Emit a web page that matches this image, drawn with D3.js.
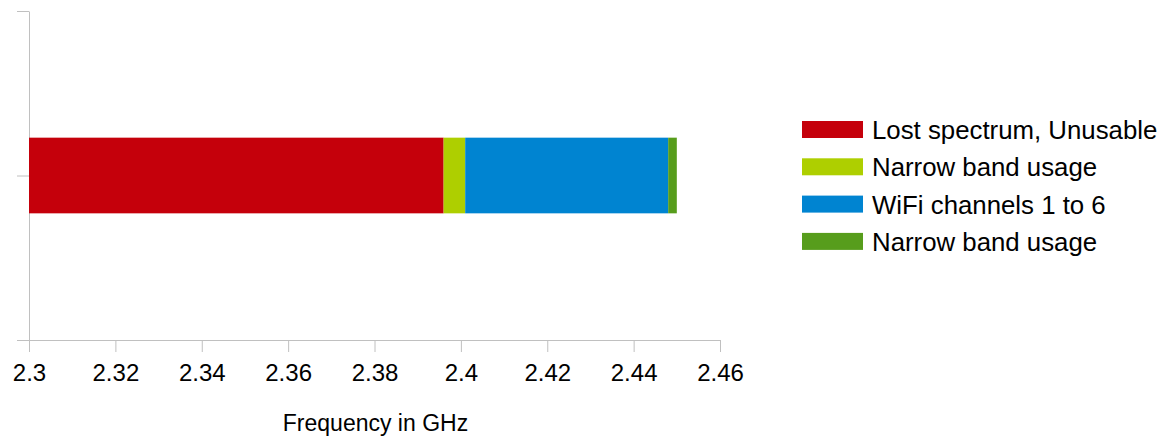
<!DOCTYPE html>
<html>
<head>
<meta charset="utf-8">
<script src="https://d3js.org/d3.v7.min.js"></script>
<style>
  body { margin: 0; background: #fff; }
  svg { display: block; font-family: "Liberation Sans", Arial, sans-serif; }
  .axis path, .axis line { stroke: #c0c0c0; }
  .axis text { fill: #000; }
</style>
</head>
<body>
<svg width="1167" height="437"></svg>
<script>
// stacked segments along the frequency axis (GHz), starting at 2.3
var base = 2.3;
var seriesNames = ["Lost spectrum, Unusable", "Narrow band usage", "WiFi channels 1 to 6", "Narrow band usage"];
var seriesValues = [0.096, 0.005, 0.047, 0.002];
var seriesColors = ["#c5000b", "#aecf00", "#0084d1", "#579d1c"];
var xTicks = [2.3, 2.32, 2.34, 2.36, 2.38, 2.4, 2.42, 2.44, 2.46];
var xLabels = ["2.3", "2.32", "2.34", "2.36", "2.38", "2.4", "2.42", "2.44", "2.46"];
var xTitle = "Frequency in GHz";

var svg = d3.select("svg");

var x = d3.scaleLinear().domain([2.3, 2.46]).range([29, 720]);
var y = d3.scaleLinear().domain([0, 2]).range([340, 11]);

// x axis
var xAxis = svg.append("g")
  .attr("class", "axis")
  .attr("transform", "translate(0,340)")
  .call(d3.axisBottom(x)
    .tickValues(xTicks)
    .tickFormat(function(d, i){ return xLabels[i]; })
    .tickSize(12)
    .tickSizeOuter(0)
    .tickPadding(12));
xAxis.selectAll("text").style("font-size", "24px").style("font-family", "Liberation Sans, Arial, sans-serif");

// y axis, no labels
svg.append("g")
  .attr("class", "axis")
  .attr("transform", "translate(29,0)")
  .call(d3.axisLeft(y)
    .tickValues([0, 1, 2])
    .tickFormat("")
    .tickSize(12)
    .tickSizeOuter(0));

// stacked bar
var starts = [];
var acc = base;
seriesValues.forEach(function(v){ starts.push(acc); acc += v; });
var barH = (y(0) - y(1)) * 0.46;

svg.append("g")
  .selectAll("rect")
  .data(seriesValues)
  .enter()
  .append("rect")
  .attr("x", function(d, i){ return x(starts[i]); })
  .attr("width", function(d, i){ return x(starts[i] + d) - x(starts[i]); })
  .attr("y", y(1) - barH / 2)
  .attr("height", barH)
  .attr("fill", function(d, i){ return seriesColors[i]; });

// axis title
svg.append("text")
  .attr("x", (x.range()[0] + x.range()[1]) / 2 + 1)
  .attr("y", 431)
  .attr("text-anchor", "middle")
  .style("font-size", "23px")
  .text(xTitle);

// legend
var legend = svg.append("g")
  .selectAll("g")
  .data(seriesNames)
  .enter()
  .append("g")
  .attr("transform", function(d, i){ return "translate(802," + (129.5 + i * 37.3) + ")"; });
legend.append("rect")
  .attr("x", 0)
  .attr("y", -8.5)
  .attr("width", 61)
  .attr("height", 17)
  .attr("fill", function(d, i){ return seriesColors[i]; });
legend.append("text")
  .attr("x", 70)
  .attr("dy", "0.37em")
  .style("font-size", "25.8px")
  .text(function(d){ return d; });
</script>
</body>
</html>
